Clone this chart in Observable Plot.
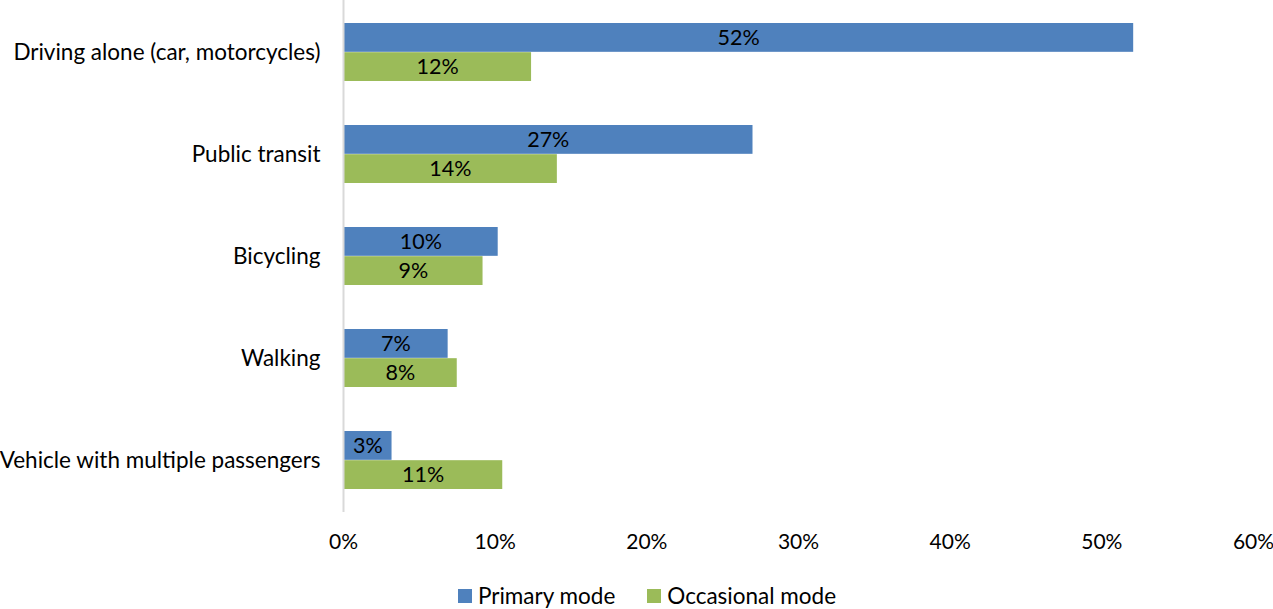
<!DOCTYPE html>
<html>
<head>
<meta charset="utf-8">
<script src="https://cdn.jsdelivr.net/npm/d3@7"></script>
<script src="https://cdn.jsdelivr.net/npm/@observablehq/plot@0.6"></script>
<style>
  body { margin: 0; background: #fff; font-family: Lato, "Open Sans", sans-serif; }
  #legend { display: flex; justify-content: center; gap: 32px; padding-left: 21px; margin-top: 23px; font-size: 22.5px; line-height: 26px; color: #000; }
  #legend span.item { display: flex; align-items: center; gap: 6px; }
  #legend span.sw { width: 14px; height: 14px; display: inline-block; }
</style>
</head>
<body>
<div id="chart"></div>
<div id="legend"></div>
<script>
const categories = ["Driving alone (car, motorcycles)", "Public transit", "Bicycling", "Walking", "Vehicle with multiple passengers"];
const primaryMode = [52.1, 27.0, 10.2, 6.9, 3.2];
const occasionalMode = [12.4, 14.1, 9.2, 7.5, 10.5];
const primaryLabels = ["52%", "27%", "10%", "7%", "3%"];
const occasionalLabels = ["12%", "14%", "9%", "8%", "11%"];
const seriesNames = ["Primary mode", "Occasional mode"];
const seriesColors = ["#4F81BD", "#9BBB59"];
const xTicks = [0, 10, 20, 30, 40, 50, 60];

const primary = categories.map((c, i) => ({cat: c, v: primaryMode[i], label: primaryLabels[i]}));
const occasional = categories.map((c, i) => ({cat: c, v: occasionalMode[i], label: occasionalLabels[i]}));

const H = 560, MB = 48;
const step = (H - MB) / (categories.length);
const bw = step * 0.57;
const half = bw / 2;

const plot = Plot.plot({
  width: 1273,
  height: H,
  marginTop: 0,
  marginBottom: MB,
  marginLeft: 343,
  marginRight: 20,
  style: {fontFamily: "Lato, 'Open Sans', sans-serif", fontSize: "22px", color: "#000", background: "#fff"},
  x: {domain: [0, 60]},
  y: {domain: categories, paddingInner: 0.43, paddingOuter: 0.215},
  marks: [
    Plot.barX(primary, {y: "cat", x: "v", fill: seriesColors[0], insetBottom: half}),
    Plot.barX(occasional, {y: "cat", x: "v", fill: seriesColors[1], insetTop: half}),
    Plot.text(primary, {y: "cat", x: d => d.v / 2, text: "label", dy: -half / 2, fill: "#000", fontSize: 21.5}),
    Plot.text(occasional, {y: "cat", x: d => d.v / 2, text: "label", dy: half / 2, fill: "#000", fontSize: 21.5}),
    Plot.ruleX([0], {stroke: "#d9d9d9", strokeWidth: 2}),
    Plot.axisY({tickSize: 0, tickPadding: 23, fontSize: 22.5, label: null}),
    Plot.axisX({ticks: xTicks, tickFormat: d => d + "%", tickSize: 0, tickPadding: 22, fontSize: 21, label: null})
  ]
});
document.getElementById("chart").appendChild(plot);

const legend = document.getElementById("legend");
seriesNames.forEach((n, i) => {
  const item = document.createElement("span");
  item.className = "item";
  const sw = document.createElement("span");
  sw.className = "sw";
  sw.style.background = seriesColors[i];
  const t = document.createElement("span");
  t.textContent = n;
  item.appendChild(sw);
  item.appendChild(t);
  legend.appendChild(item);
});
</script>
</body>
</html>
